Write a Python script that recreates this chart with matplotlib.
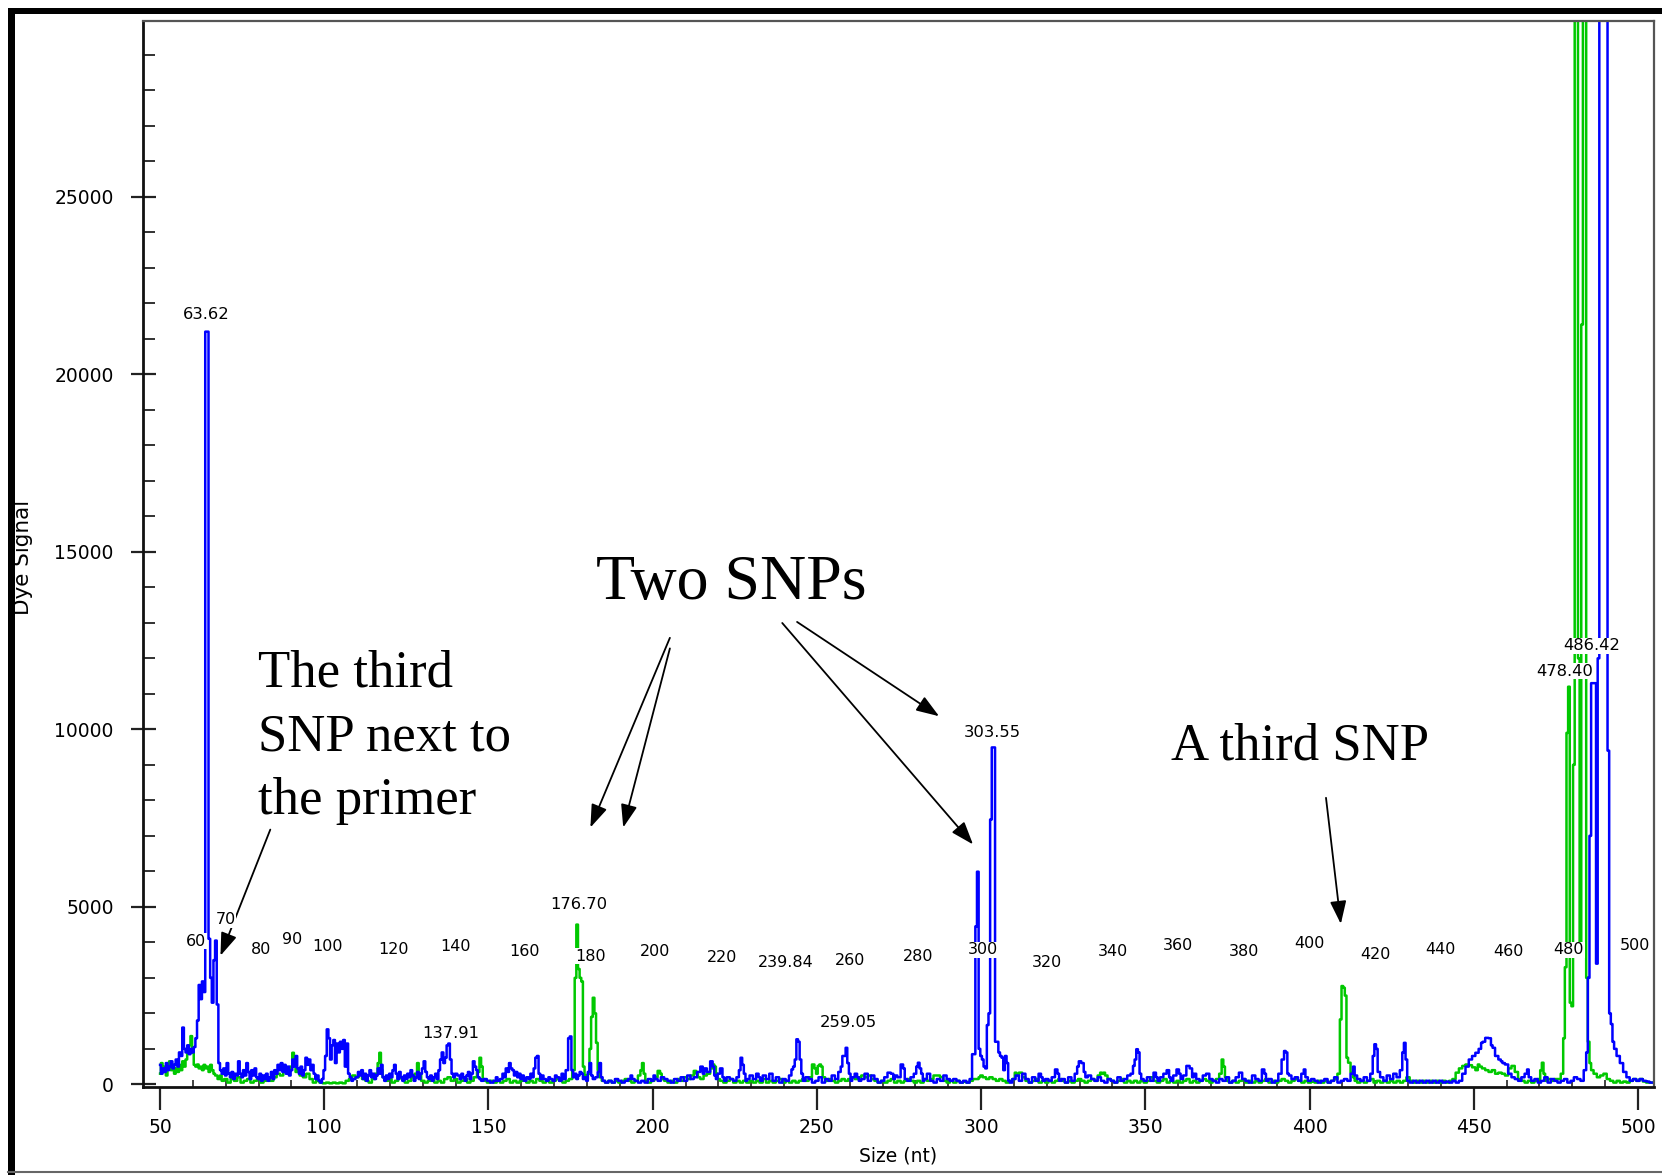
import matplotlib
matplotlib.use("Agg")
import matplotlib.pyplot as plt
from matplotlib.ticker import MultipleLocator
from matplotlib.patches import Rectangle
from matplotlib.lines import Line2D

# ---------------- data ----------------
blue_size = [
    50.0, 50.5, 51.0, 51.5, 52.0, 52.5, 53.0, 53.5, 54.0, 54.5, 55.0, 55.5, 56.0, 56.5, 57.0, 57.5,
    58.0, 58.5, 59.0, 59.5, 60.0, 60.5, 61.0, 61.5, 62.0, 62.5, 63.0, 63.5, 64.0, 64.5, 65.0, 65.5,
    66.0, 66.5, 67.0, 67.5, 68.0, 68.5, 69.0, 69.5, 70.0, 70.5, 71.0, 71.5, 72.0, 72.5, 73.0, 73.5,
    74.0, 74.5, 75.0, 75.5, 76.0, 76.5, 77.0, 77.5, 78.0, 78.5, 79.0, 79.5, 80.0, 80.5, 81.0, 81.5,
    82.0, 82.5, 83.0, 83.5, 84.0, 84.5, 85.0, 85.5, 86.0, 86.5, 87.0, 87.5, 88.0, 88.5, 89.0, 89.5,
    90.0, 90.5, 91.0, 91.5, 92.0, 92.5, 93.0, 93.5, 94.0, 94.5, 95.0, 95.5, 96.0, 96.5, 97.0, 97.5,
    98.0, 98.5, 99.0, 99.5, 100.0, 100.5, 101.0, 101.5, 102.0, 102.5, 103.0, 103.5, 104.0, 104.5,
    105.0, 105.5, 106.0, 106.5, 107.0, 107.5, 108.0, 108.5, 109.0, 110.0, 110.5, 111.0, 111.5, 112.0,
    112.5, 113.0, 113.5, 114.0, 114.5, 115.0, 115.5, 116.0, 116.5, 117.0, 117.5, 118.0, 118.5, 119.0,
    119.5, 120.0, 120.5, 121.0, 121.5, 122.0, 122.5, 123.0, 123.5, 124.0, 124.5, 125.0, 125.5, 126.0,
    126.5, 127.0, 127.5, 128.0, 128.5, 129.0, 129.5, 130.0, 130.5, 131.0, 131.5, 132.0, 132.5, 133.0,
    133.5, 134.0, 134.5, 135.0, 135.5, 136.0, 136.5, 137.0, 137.5, 138.0, 138.5, 139.0, 139.5, 140.0,
    141.0, 141.5, 142.0, 142.5, 143.0, 143.5, 144.0, 144.5, 145.0, 145.5, 146.0, 146.5, 147.0, 147.5,
    148.0, 149.0, 150.0, 151.0, 152.0, 152.5, 153.0, 154.0, 154.5, 155.0, 155.5, 156.0, 156.5, 157.0,
    157.5, 158.0, 158.5, 159.0, 159.5, 160.0, 160.5, 161.0, 162.0, 162.5, 163.0, 163.5, 164.0, 164.5,
    165.0, 165.5, 166.0, 166.5, 167.0, 168.0, 168.5, 169.0, 170.0, 170.5, 171.0, 172.0, 172.5, 173.0,
    174.0, 174.5, 175.0, 175.5, 176.0, 176.5, 177.0, 177.5, 178.0, 178.5, 179.0, 179.5, 180.0, 180.5,
    181.0, 181.5, 182.0, 183.0, 183.5, 184.0, 184.5, 185.0, 186.0, 187.0, 188.0, 189.0, 190.0, 191.0,
    192.0, 193.0, 193.5, 194.0, 195.0, 196.0, 197.0, 198.0, 199.0, 200.0, 200.5, 201.0, 202.0, 203.0,
    204.0, 205.0, 206.0, 207.0, 208.0, 209.0, 210.0, 211.0, 212.0, 213.0, 214.0, 215.0, 215.5, 216.0,
    217.0, 218.0, 218.5, 219.0, 219.5, 220.0, 221.0, 221.5, 222.0, 223.0, 224.0, 225.0, 226.0, 226.5,
    227.0, 227.5, 228.0, 228.5, 229.0, 230.0, 231.0, 232.0, 232.5, 233.0, 234.0, 235.0, 236.0, 237.0,
    238.0, 239.0, 240.0, 241.0, 242.0, 242.5, 243.0, 243.5, 244.0, 244.5, 245.0, 245.5, 246.0, 247.0,
    248.0, 249.0, 250.0, 251.0, 252.0, 253.0, 254.0, 255.0, 256.0, 257.0, 257.5, 258.0, 258.5, 259.0,
    259.5, 260.0, 260.5, 261.0, 262.0, 262.5, 263.0, 264.0, 265.0, 266.0, 267.0, 268.0, 269.0, 270.0,
    271.0, 272.0, 273.0, 273.5, 274.0, 275.0, 276.0, 276.5, 277.0, 278.0, 279.0, 280.0, 280.5, 281.0,
    281.5, 282.0, 282.5, 283.0, 284.0, 285.0, 286.0, 287.0, 288.0, 289.0, 290.0, 291.0, 292.0, 293.0,
    294.0, 295.0, 296.0, 297.0, 297.5, 298.0, 298.5, 299.0, 299.5, 300.0, 300.5, 301.0, 301.5, 302.0,
    302.5, 303.0, 303.5, 304.0, 304.5, 305.0, 305.5, 306.0, 306.5, 307.0, 307.5, 308.0, 308.5, 309.0,
    310.0, 311.0, 312.0, 313.0, 314.0, 315.0, 316.0, 317.0, 318.0, 318.5, 319.0, 320.0, 321.0, 322.0,
    323.0, 323.5, 324.0, 325.0, 326.0, 327.0, 328.0, 329.0, 329.5, 330.0, 331.0, 331.5, 332.0, 333.0,
    334.0, 335.0, 336.0, 337.0, 338.0, 339.0, 340.0, 341.0, 342.0, 343.0, 344.0, 345.0, 346.0, 346.5,
    347.0, 347.5, 348.0, 348.5, 349.0, 350.0, 351.0, 352.0, 353.0, 353.5, 354.0, 355.0, 356.0, 357.0,
    357.5, 358.0, 359.0, 360.0, 360.5, 361.0, 362.0, 363.0, 364.0, 364.5, 365.0, 366.0, 367.0, 368.0,
    369.0, 370.0, 371.0, 372.0, 373.0, 374.0, 375.0, 376.0, 377.0, 378.0, 379.0, 380.0, 381.0, 382.0,
    383.0, 384.0, 385.0, 386.0, 386.5, 387.0, 388.0, 389.0, 390.0, 391.0, 392.0, 392.5, 393.0, 393.5,
    394.0, 395.0, 396.0, 397.0, 398.0, 398.5, 399.0, 400.0, 401.0, 402.0, 403.0, 404.0, 405.0, 406.0,
    407.0, 408.0, 409.0, 410.0, 411.0, 412.0, 413.0, 413.5, 414.0, 415.0, 416.0, 417.0, 418.0, 419.0,
    419.5, 420.0, 420.5, 421.0, 422.0, 423.0, 424.0, 425.0, 426.0, 427.0, 428.0, 428.5, 429.0, 429.5,
    430.0, 431.0, 432.0, 433.0, 434.0, 435.0, 436.0, 437.0, 438.0, 439.0, 440.0, 441.0, 442.0, 443.0,
    444.0, 445.0, 446.0, 447.0, 448.0, 449.0, 450.0, 451.0, 452.0, 452.5, 453.0, 454.0, 455.0, 455.5,
    456.0, 457.0, 458.0, 458.5, 459.0, 460.0, 461.0, 462.0, 463.0, 464.0, 465.0, 466.0, 466.5, 467.0,
    468.0, 469.0, 470.0, 471.0, 472.0, 473.0, 474.0, 475.0, 476.0, 477.0, 478.0, 479.0, 480.0, 481.0,
    482.0, 483.0, 484.0, 484.5, 485.0, 485.5, 486.0, 486.5, 487.0, 487.5, 488.0, 488.5, 489.0, 489.5,
    490.0, 490.5, 491.0, 491.5, 492.0, 492.5, 493.0, 494.0, 495.0, 496.0, 497.0, 498.0, 499.0, 500.0,
    501.0, 502.0, 503.0, 504.0, 505.0,
]
blue_signal = [
    550, 300, 450, 350, 600, 400, 500, 650, 450, 550, 700, 500, 900, 800, 1600, 1000,
    900, 1100, 850, 1000, 900, 1050, 1300, 1800, 2800, 2400, 2900, 2600, 21200, 21200, 4100, 3000,
    2300, 3500, 4050, 2250, 600, 400, 300, 450, 250, 600, 300, 200, 350, 150, 300, 250,
    650, 300, 200, 400, 250, 600, 350, 150, 400, 250, 450, 200, 150, 300, 100, 250,
    150, 300, 100, 200, 350, 150, 400, 300, 550, 400, 600, 350, 550, 300, 500, 250,
    400, 700, 500, 800, 450, 300, 500, 250, 400, 750, 550, 700, 400, 550, 300, 150,
    250, 100, 50, 150, 400, 800, 1550, 1300, 700, 1100, 1250, 600, 1150, 900,
    1200, 1000, 1250, 500, 1150, 300, 200, 100, 150, 200, 350, 250, 400, 150,
    300, 100, 250, 400, 200, 300, 150, 250, 450, 300, 550, 200, 100, 250,
    150, 300, 200, 400, 550, 300, 150, 350, 200, 100, 250, 150, 300, 200,
    400, 250, 100, 200, 350, 150, 300, 450, 650, 350, 200, 150, 250, 100,
    200, 300, 150, 400, 700, 900, 600, 750, 1100, 1150, 700, 300, 200, 300,
    250, 150, 300, 200, 100, 250, 350, 150, 300, 650, 500, 400, 200, 150,
    100, 150, 100, 50, 100, 200, 100, 150, 300, 200, 450, 350, 600, 450,
    400, 250, 350, 200, 300, 150, 250, 100, 200, 150, 300, 200, 450, 750,
    800, 300, 150, 250, 150, 100, 200, 150, 100, 250, 200, 100, 300, 150,
    400, 1300, 1350, 400, 200, 300, 150, 250, 350, 300, 150, 200, 100, 350,
    600, 250, 150, 200, 350, 600, 200, 100, 50, 100, 50, 150, 100, 50,
    100, 150, 250, 150, 100, 50, 100, 50, 150, 100, 250, 150, 100, 200,
    150, 100, 50, 150, 100, 200, 100, 250, 150, 200, 350, 500, 300, 450,
    350, 650, 500, 250, 150, 300, 450, 200, 100, 200, 150, 100, 200, 400,
    750, 550, 300, 100, 150, 250, 150, 300, 200, 100, 250, 150, 300, 100,
    200, 50, 150, 100, 250, 420, 500, 700, 1270, 1200, 700, 300, 100, 200,
    150, 50, 100, 200, 50, 150, 100, 250, 150, 350, 500, 800, 800, 1030,
    600, 300, 100, 200, 300, 200, 100, 150, 300, 100, 250, 150, 50, 100,
    200, 330, 300, 150, 250, 200, 560, 450, 150, 100, 200, 300, 500, 610,
    450, 300, 100, 150, 300, 100, 50, 150, 100, 250, 150, 100, 150, 100,
    50, 100, 50, 150, 850, 850, 4450, 5990, 1000, 800, 700, 500, 450, 1670,
    2000, 7460, 9490, 9490, 1200, 1200, 900, 800, 750, 400, 800, 600, 100, 50,
    150, 250, 100, 300, 150, 50, 200, 100, 300, 200, 100, 150, 100, 200,
    420, 300, 100, 150, 50, 200, 100, 300, 500, 650, 600, 350, 200, 250,
    150, 100, 200, 100, 50, 150, 100, 50, 200, 100, 150, 250, 300, 520,
    700, 990, 900, 300, 150, 100, 200, 100, 330, 200, 100, 200, 300, 400,
    200, 100, 250, 420, 300, 150, 250, 520, 450, 200, 300, 150, 100, 250,
    300, 150, 100, 50, 150, 100, 200, 50, 100, 200, 330, 150, 100, 50,
    250, 150, 100, 420, 300, 100, 150, 50, 100, 300, 700, 940, 900, 300,
    250, 150, 200, 100, 300, 420, 200, 100, 150, 100, 50, 100, 150, 50,
    100, 200, 50, 100, 150, 100, 300, 500, 250, 150, 100, 200, 100, 300,
    800, 1130, 1000, 350, 200, 100, 250, 150, 300, 200, 400, 900, 1170, 700,
    100, 50, 100, 50, 100, 50, 100, 50, 100, 50, 100, 50, 80, 50,
    100, 50, 100, 300, 500, 700, 800, 890, 1000, 1170, 1200, 1310, 1300, 1100,
    1030, 800, 700, 650, 600, 560, 300, 200, 150, 100, 200, 300, 420, 200,
    100, 150, 50, 100, 200, 50, 150, 100, 50, 100, 150, 50, 100, 200,
    150, 100, 400, 900, 3000, 7000, 11300, 11300, 11300, 3400, 12000, 30000, 30000, 30000,
    30000, 30000, 9400, 2000, 1700, 1200, 1000, 800, 600, 350, 200, 100, 150, 100,
    150, 100, 80, 50, 50,
]

green_size = [
    50.0, 50.5, 51.0, 51.5, 52.0, 52.5, 53.0, 53.5, 54.0, 54.5, 55.0, 55.5, 56.0, 56.5, 57.0, 57.5,
    58.0, 58.5, 59.0, 59.5, 60.0, 60.5, 61.0, 61.5, 62.0, 62.5, 63.0, 63.5, 64.0, 64.5, 65.0, 65.5,
    66.0, 66.5, 67.0, 68.0, 68.5, 69.0, 70.0, 71.0, 72.0, 73.0, 74.0, 75.0, 76.0, 77.0, 78.0, 79.0,
    80.0, 81.0, 82.0, 83.0, 84.0, 85.0, 86.0, 87.0, 88.0, 89.0, 90.0, 90.5, 91.0, 91.5, 92.0, 93.0,
    94.0, 95.0, 96.0, 97.0, 98.0, 99.0, 100.0, 101.0, 102.0, 103.0, 104.0, 105.0, 106.0, 107.0,
    108.0, 109.0, 110.0, 111.0, 112.0, 113.0, 114.0, 115.0, 116.0, 116.5, 117.0, 117.5, 118.0, 119.0,
    120.0, 121.0, 122.0, 123.0, 124.0, 125.0, 126.0, 127.0, 128.0, 128.5, 129.0, 130.0, 131.0, 132.0,
    133.0, 134.0, 135.0, 136.0, 137.0, 138.0, 139.0, 140.0, 141.0, 142.0, 143.0, 144.0, 145.0, 146.0,
    147.0, 147.5, 148.0, 148.5, 149.0, 150.0, 151.0, 152.0, 153.0, 154.0, 155.0, 156.0, 157.0, 158.0,
    159.0, 160.0, 161.0, 162.0, 163.0, 164.0, 165.0, 166.0, 167.0, 168.0, 169.0, 170.0, 171.0, 172.0,
    173.0, 174.0, 175.0, 176.0, 176.5, 177.0, 177.5, 178.0, 178.5, 179.0, 179.5, 180.0, 180.5, 181.0,
    181.5, 182.0, 182.5, 183.0, 183.5, 184.0, 185.0, 186.0, 187.0, 188.0, 189.0, 190.0, 191.0, 192.0,
    193.0, 194.0, 195.0, 196.0, 196.5, 197.0, 197.5, 198.0, 199.0, 200.0, 201.0, 202.0, 202.5, 203.0,
    204.0, 205.0, 206.0, 207.0, 208.0, 209.0, 210.0, 211.0, 212.0, 213.0, 213.5, 214.0, 215.0, 216.0,
    217.0, 218.0, 218.5, 219.0, 219.5, 220.0, 221.0, 222.0, 223.0, 224.0, 225.0, 226.0, 227.0, 228.0,
    229.0, 230.0, 231.0, 232.0, 233.0, 234.0, 235.0, 236.0, 237.0, 238.0, 239.0, 240.0, 241.0, 242.0,
    243.0, 244.0, 245.0, 246.0, 247.0, 248.0, 249.0, 249.5, 250.0, 250.5, 251.0, 251.5, 252.0, 253.0,
    254.0, 255.0, 256.0, 257.0, 258.0, 259.0, 260.0, 261.0, 262.0, 263.0, 264.0, 265.0, 266.0, 267.0,
    268.0, 269.0, 270.0, 271.0, 272.0, 273.0, 274.0, 275.0, 276.0, 277.0, 278.0, 279.0, 280.0, 281.0,
    282.0, 283.0, 284.0, 285.0, 286.0, 287.0, 288.0, 289.0, 290.0, 291.0, 292.0, 293.0, 294.0, 295.0,
    296.0, 297.0, 298.0, 299.0, 299.5, 300.0, 301.0, 302.0, 303.0, 304.0, 305.0, 306.0, 307.0, 308.0,
    309.0, 310.0, 310.5, 311.0, 312.0, 313.0, 314.0, 315.0, 316.0, 317.0, 318.0, 319.0, 320.0, 321.0,
    322.0, 323.0, 324.0, 325.0, 326.0, 327.0, 328.0, 329.0, 330.0, 331.0, 332.0, 333.0, 334.0, 335.0,
    336.0, 336.5, 337.0, 337.5, 338.0, 339.0, 340.0, 341.0, 342.0, 343.0, 344.0, 345.0, 346.0, 347.0,
    348.0, 349.0, 350.0, 351.0, 352.0, 353.0, 354.0, 355.0, 356.0, 357.0, 358.0, 359.0, 360.0, 361.0,
    362.0, 363.0, 364.0, 365.0, 366.0, 367.0, 368.0, 369.0, 370.0, 371.0, 372.0, 373.0, 373.5, 374.0,
    374.5, 375.0, 376.0, 377.0, 378.0, 379.0, 380.0, 381.0, 382.0, 383.0, 384.0, 385.0, 386.0, 387.0,
    388.0, 389.0, 390.0, 391.0, 392.0, 393.0, 394.0, 395.0, 396.0, 397.0, 398.0, 399.0, 400.0, 401.0,
    402.0, 403.0, 404.0, 405.0, 406.0, 407.0, 408.0, 409.0, 409.5, 410.0, 410.5, 411.0, 411.5, 412.0,
    413.0, 413.5, 414.0, 415.0, 416.0, 417.0, 418.0, 419.0, 420.0, 421.0, 422.0, 423.0, 424.0, 425.0,
    426.0, 427.0, 428.0, 429.0, 430.0, 431.0, 432.0, 433.0, 434.0, 435.0, 436.0, 437.0, 438.0, 439.0,
    440.0, 441.0, 442.0, 443.0, 444.0, 445.0, 446.0, 447.0, 448.0, 449.0, 450.0, 451.0, 451.5, 452.0,
    453.0, 454.0, 455.0, 456.0, 457.0, 458.0, 459.0, 460.0, 461.0, 462.0, 463.0, 464.0, 465.0, 466.0,
    467.0, 468.0, 469.0, 470.0, 470.5, 471.0, 471.5, 472.0, 473.0, 474.0, 475.0, 476.0, 477.0, 477.5,
    478.0, 478.5, 479.0, 479.5, 480.0, 480.5, 481.0, 481.5, 482.0, 482.5, 483.0, 483.5, 484.0, 484.5,
    485.0, 485.5, 486.0, 487.0, 488.0, 489.0, 490.0, 491.0, 492.0, 493.0, 494.0, 495.0, 496.0, 497.0,
    498.0, 499.0, 500.0, 501.0, 502.0, 503.0, 504.0, 505.0,
]
green_signal = [
    300, 600, 350, 500, 250, 450, 650, 400, 550, 300, 450, 350, 550, 400, 650, 500,
    700, 900, 1100, 1360, 900, 550, 500, 560, 450, 500, 400, 550, 450, 500, 350, 550,
    400, 300, 250, 150, 250, 100, 150, 50, 150, 100, 200, 50, 100, 150, 50, 100,
    150, 50, 100, 150, 100, 200, 300, 250, 400, 350, 500, 890, 600, 350, 400, 250,
    200, 300, 150, 50, 100, 50, 30, 50, 30, 50, 30, 50, 30, 100,
    150, 250, 200, 300, 150, 100, 50, 150, 300, 600, 890, 400, 200, 100,
    150, 50, 100, 200, 150, 50, 100, 200, 300, 600, 300, 100, 50, 100,
    150, 50, 100, 50, 150, 200, 100, 150, 50, 100, 150, 50, 100, 200,
    350, 750, 500, 150, 100, 50, 100, 50, 100, 50, 100, 150, 50, 100,
    50, 100, 150, 50, 100, 50, 150, 100, 50, 100, 50, 100, 150, 100,
    50, 100, 150, 400, 3000, 4500, 3250, 3000, 2900, 500, 250, 150, 300, 1000,
    1900, 2440, 2000, 1170, 400, 200, 100, 50, 100, 50, 100, 50, 100, 150,
    100, 50, 100, 250, 400, 600, 300, 100, 50, 100, 200, 380, 300, 150,
    100, 50, 100, 50, 150, 100, 200, 150, 250, 380, 300, 200, 150, 250,
    300, 450, 560, 500, 300, 150, 100, 50, 100, 150, 50, 100, 50, 100,
    50, 100, 50, 100, 50, 150, 50, 100, 50, 100, 150, 50, 100, 50,
    100, 50, 100, 150, 100, 200, 560, 450, 300, 520, 560, 500, 200, 100,
    150, 100, 50, 100, 150, 100, 150, 200, 150, 200, 250, 200, 250, 150,
    100, 50, 100, 50, 100, 150, 50, 100, 50, 100, 150, 100, 50, 100,
    50, 150, 100, 150, 250, 250, 200, 100, 50, 100, 50, 100, 50, 80,
    50, 100, 150, 150, 200, 250, 200, 150, 200, 150, 100, 150, 100, 50,
    100, 150, 330, 250, 330, 200, 100, 50, 100, 150, 50, 100, 50, 100,
    50, 100, 150, 100, 50, 100, 50, 100, 150, 100, 50, 100, 150, 100,
    250, 330, 300, 330, 250, 150, 100, 50, 100, 150, 50, 100, 50, 100,
    50, 100, 50, 100, 200, 100, 50, 100, 150, 50, 100, 50, 100, 50,
    100, 150, 50, 100, 50, 100, 150, 100, 50, 100, 150, 300, 700, 500,
    200, 100, 50, 100, 50, 100, 150, 50, 100, 50, 100, 50, 100, 150,
    50, 100, 50, 100, 150, 100, 50, 100, 150, 100, 50, 100, 50, 80,
    50, 100, 50, 100, 50, 100, 150, 300, 1830, 2770, 2720, 2500, 750, 610,
    330, 200, 100, 50, 100, 50, 100, 150, 50, 100, 50, 100, 50, 100,
    50, 100, 50, 100, 200, 100, 50, 100, 50, 100, 50, 100, 50, 100,
    50, 100, 50, 100, 150, 330, 450, 520, 560, 540, 480, 400, 560, 500,
    450, 400, 350, 400, 300, 330, 300, 250, 450, 520, 350, 150, 100, 50,
    100, 50, 100, 150, 400, 610, 300, 100, 150, 100, 150, 150, 300, 1300,
    3300, 9900, 11200, 2300, 2200, 9000, 30000, 30000, 12000, 4000, 21400, 30000, 30000, 3000,
    1200, 600, 400, 300, 200, 250, 300, 150, 100, 50, 100, 50, 80, 50,
    100, 150, 100, 150, 80, 50, 50, 50,
]

ladder_labels = ["60", "70", "80", "90", "100", "120", "140", "160", "180", "200", "220",
                 "239.84", "260", "280", "300", "320", "340", "360", "380", "400", "420",
                 "440", "460", "480", "500"]
ladder_x = [61.0, 70.0, 80.7, 90.3, 101.0, 121.0, 140.0, 161.0, 181.0, 200.7, 221.0,
            240.4, 260.0, 280.8, 300.5, 320.0, 340.0, 360.0, 380.0, 400.0, 420.0,
            440.0, 460.6, 479.0, 499.0]
ladder_y = [4030, 4630, 3790, 4090, 3880, 3790, 3880, 3730, 3610, 3730, 3580,
            3430, 3490, 3610, 3790, 3430, 3730, 3910, 3730, 3970, 3670,
            3790, 3730, 3790, 3910]

peak_labels = ["63.62", "137.91", "176.70", "259.05", "303.55", "478.40", "486.42"]
peak_x = [64.2, 138.4, 177.5, 259.5, 303.4, 477.7, 485.8]
peak_y = [21670, 1433, 5075, 1731, 9910, 11640, 12360]

# ---------------- figure ----------------
W, H = 1662, 1175
fig = plt.figure(figsize=(W / 100, H / 100), dpi=100)
fig.patch.set_facecolor("white")

ax = fig.add_axes([143 / W, 1 - 1086.5 / H, (1654 - 143) / W, (1086.5 - 21) / H])
ax.set_facecolor("white")

ax.plot(green_size, green_signal, color="#00C800", lw=1.8, drawstyle="steps-mid", zorder=2)
ax.plot(blue_size, blue_signal, color="#0000FF", lw=1.8, drawstyle="steps-mid", zorder=2.1)

ax.set_xlim(44.8, 504.9)
ax.set_ylim(-60, 29950)

ax.xaxis.set_major_locator(MultipleLocator(50))
ax.xaxis.set_minor_locator(MultipleLocator(10))
ax.yaxis.set_major_locator(MultipleLocator(5000))
ax.yaxis.set_minor_locator(MultipleLocator(1000))

ax.tick_params(axis="x", which="major", direction="out", length=16.5, width=1.6,
               labelsize=13.5, pad=6, color="#222222")
ax.tick_params(axis="x", which="minor", direction="in", length=5, width=1.2, color="#222222")
ax.tick_params(axis="y", which="major", direction="inout", length=18, width=1.6,
               labelsize=13.5, pad=12, color="#222222")
ax.tick_params(axis="y", which="minor", direction="in", length=8.4, width=1.3, color="#222222")

for side in ("left", "bottom"):
    ax.spines[side].set_linewidth(2.0)
    ax.spines[side].set_color("#111111")
for side in ("top", "right"):
    ax.spines[side].set_linewidth(1.6)
    ax.spines[side].set_color("#555555")

ax.set_xlabel("Size (nt)", fontsize=13.5)
ax.xaxis.set_label_coords(0.5, -0.056)
ax.set_ylabel("Dye Signal", fontsize=15.5)
ax.yaxis.set_label_coords(-0.0728, 0.497)

box = dict(facecolor="white", edgecolor="none", pad=0.3)
for s, x, y in zip(ladder_labels, ladder_x, ladder_y):
    ax.text(x, y, s, ha="center", va="center", fontsize=11.5, bbox=box, zorder=5)
for s, x, y in zip(peak_labels, peak_x, peak_y):
    ax.text(x, y, s, ha="center", va="center", fontsize=11.8, bbox=box, zorder=5)

# ---------------- annotations (overlay, figure fraction) ----------------
SW, SH = 1568, 1109


def ff(px, py):
    return (px / SW, 1 - py / SH)


serif = "Liberation Serif"
fig.text(*ff(690, 565), "Two SNPs", fontsize=46, family=serif, ha="center", va="baseline")
for line, base in zip(["The third", "SNP next to", "the primer"], [648, 708, 768]):
    fig.text(*ff(243, base), line, fontsize=38, family=serif, ha="left", va="baseline")
fig.text(*ff(1105, 717), "A third SNP", fontsize=38, family=serif, ha="left", va="baseline")

arrows = [((255, 783), (208, 902)), ((632, 602), (557, 781)), ((632, 612), (588, 781)),
          ((738, 588), (918, 797)), ((752, 587), (886, 676)), ((1251, 753), (1265, 872))]
for tail, head in arrows:
    ax.annotate("", xy=ff(*head), xycoords="figure fraction",
                xytext=ff(*tail), textcoords="figure fraction",
                arrowprops=dict(arrowstyle="-|>,head_length=0.7,head_width=0.25",
                                mutation_scale=20, lw=1.3, color="black",
                                shrinkA=0, shrinkB=0))

# ---------------- outer screenshot frame ----------------
fig.add_artist(Rectangle((8 / W, 0), 7 / W, 1 - 8 / H, transform=fig.transFigure,
                         facecolor="black", edgecolor="none"))
fig.add_artist(Rectangle((8 / W, 1 - 14 / H), 1 - 8 / W, 6 / H, transform=fig.transFigure,
                         facecolor="black", edgecolor="none"))
fig.add_artist(Line2D([8 / W, 1], [1 - 1172 / H, 1 - 1172 / H], transform=fig.transFigure,
                      color="#666666", lw=1.5))

fig.savefig("out.png", dpi=100)
